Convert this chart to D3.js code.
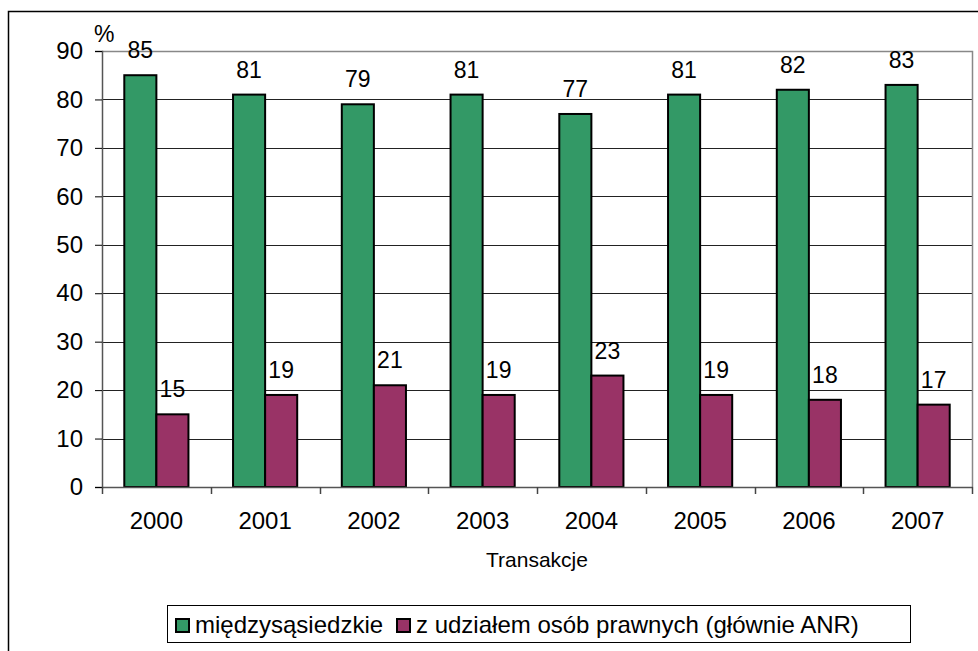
<!DOCTYPE html>
<html>
<head>
<meta charset="utf-8">
<script src="https://cdn.jsdelivr.net/npm/d3@7"></script>
<style>
  html, body { margin: 0; padding: 0; background: #fff; }
  svg { display: block; font-family: "Liberation Sans", Arial, sans-serif; }
</style>
</head>
<body>
<svg id="chart" width="978" height="651"></svg>
<script>
const years = ["2000", "2001", "2002", "2003", "2004", "2005", "2006", "2007"];
const seriesNames = ["międzysąsiedzkie", "z udziałem osób prawnych (głównie ANR)"];
const miedzysasiedzkie = [85, 81, 79, 81, 77, 81, 82, 83];
const zUdzialem = [15, 19, 21, 19, 23, 19, 18, 17];
const yTicks = [0, 10, 20, 30, 40, 50, 60, 70, 80, 90];
const colors = ["#339966", "#993366"];
const xTitle = "Transakcje";
const yUnit = "%";

const svg = d3.select("#chart");
const plot = { left: 102, right: 972, top: 51, bottom: 487 };

// outer frame
svg.append("path")
  .attr("d", "M8.5,651 L8.5,11.5 L978,11.5")
  .attr("fill", "none").attr("stroke", "#000").attr("stroke-width", 1.5);

const x = d3.scaleBand().domain(years).range([plot.left, plot.right])
  .paddingInner(0.41).paddingOuter(0.205);
const xs = d3.scaleBand().domain([0, 1]).range([0, x.bandwidth()]);
const y = d3.scaleLinear().domain([0, 90]).range([plot.bottom, plot.top]);

// gridlines
svg.append("g").selectAll("line").data(yTicks.filter(t => t > 0 && t < 90)).join("line")
  .attr("x1", plot.left).attr("x2", plot.right)
  .attr("y1", d => Math.round(y(d)) + 0.5).attr("y2", d => Math.round(y(d)) + 0.5)
  .attr("stroke", "#222").attr("stroke-width", 1);

// plot border top/right (gray)
svg.append("path")
  .attr("d", `M${plot.left},${plot.top + 0.5} L${plot.right + 0.5},${plot.top + 0.5} L${plot.right + 0.5},${plot.bottom}`)
  .attr("fill", "none").attr("stroke", "#888").attr("stroke-width", 1.5);

// bars
const data = years.map((yr, i) => ({ yr, vals: [miedzysasiedzkie[i], zUdzialem[i]] }));
const groups = svg.append("g").selectAll("g").data(data).join("g")
  .attr("transform", d => `translate(${x(d.yr)},0)`);
groups.selectAll("rect").data(d => d.vals.map((v, k) => ({ v, k }))).join("rect")
  .attr("x", d => xs(d.k))
  .attr("y", d => y(d.v))
  .attr("width", xs.bandwidth())
  .attr("height", d => y(0) - y(d.v))
  .attr("fill", d => colors[d.k])
  .attr("stroke", "#000").attr("stroke-width", 2);
groups.selectAll("text").data(d => d.vals.map((v, k) => ({ v, k }))).join("text")
  .attr("x", d => xs(d.k) + xs.bandwidth() / 2)
  .attr("y", d => y(d.v) - 17)
  .attr("text-anchor", "middle")
  .attr("font-size", 23)
  .attr("fill", "#000")
  .text(d => d.v);

// y axis
const yAxis = d3.axisLeft(y).tickValues(yTicks).tickSize(7).tickPadding(12);
const gy = svg.append("g").attr("transform", `translate(${plot.left},0)`).call(yAxis);
gy.select(".domain").attr("stroke", "#555").attr("stroke-width", 1.5);
gy.selectAll(".tick line").attr("stroke", "#000");
gy.selectAll(".tick text").attr("font-size", 24).attr("fill", "#000")
  .attr("font-family", "Liberation Sans, Arial, sans-serif");

// x axis with ticks at category boundaries
const gx = svg.append("g").attr("transform", `translate(0,${plot.bottom})`);
gx.append("line").attr("x1", plot.left).attr("x2", plot.right + 1)
  .attr("y1", 0.5).attr("y2", 0.5).attr("stroke", "#555").attr("stroke-width", 1.5);
const bounds = years.map(yr => x(yr) - x.step() * x.paddingOuter()).concat([plot.right]);
gx.selectAll("line.t").data(bounds).join("line").attr("class", "t")
  .attr("x1", d => Math.round(d) + 0.5).attr("x2", d => Math.round(d) + 0.5)
  .attr("y1", 0).attr("y2", 7).attr("stroke", "#444").attr("stroke-width", 1.5);
gx.selectAll("text").data(years).join("text")
  .attr("x", d => x(d) + x.bandwidth() / 2)
  .attr("y", 42)
  .attr("text-anchor", "middle").attr("font-size", 24).attr("fill", "#000")
  .text(d => d);

// axis titles
svg.append("text").attr("x", (plot.left + plot.right) / 2).attr("y", 567)
  .attr("text-anchor", "middle").attr("font-size", 21).attr("fill", "#000").text(xTitle);
svg.append("text").attr("x", 94).attr("y", 42)
  .attr("font-size", 23).attr("fill", "#000").text(yUnit);

// legend
const lg = svg.append("g");
lg.append("rect").attr("x", 167.5).attr("y", 605.5).attr("width", 743).attr("height", 37)
  .attr("fill", "#fff").attr("stroke", "#000").attr("stroke-width", 1);
const legendX = [175, 396];
seriesNames.forEach((name, k) => {
  lg.append("rect").attr("x", legendX[k] + 1).attr("y", 619).attr("width", 13).attr("height", 13)
    .attr("fill", colors[k]).attr("stroke", "#000").attr("stroke-width", 2);
  lg.append("text").attr("x", legendX[k] + 20).attr("y", 633)
    .attr("font-size", 24).attr("fill", "#000").text(name);
});
</script>
</body>
</html>
